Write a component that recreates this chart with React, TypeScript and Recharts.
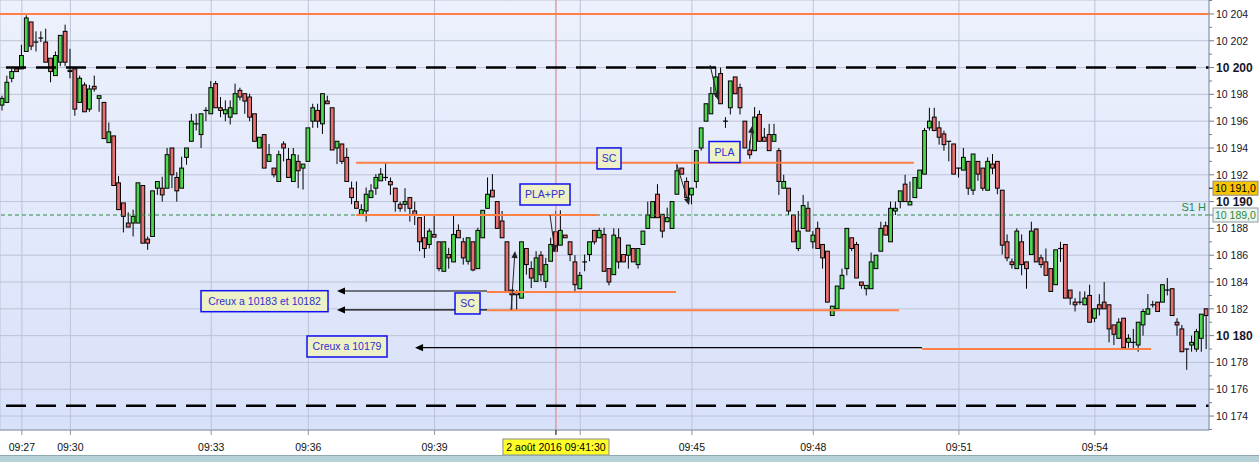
import React from 'react';
import { ComposedChart, Bar, XAxis, YAxis, CartesianGrid, ReferenceLine, ReferenceDot } from 'recharts';

// 249 bars, DAX-like future, 2 Aug 2016
const open = [
  10197.2, 10197.4, 10199.2, 10199.9, 10199.9, 10201.2, 10203.4, 10201.9, 10202.2, 10201.9,
  10200.7, 10199.4, 10200.4, 10202.7, 10199.8, 10199.9, 10197.4, 10198.7, 10196.9, 10198.6,
  10197.7, 10197.4, 10194.4, 10194.9, 10191.4, 10189.9, 10188.4, 10188.4, 10188.4, 10191.2,
  10187.2, 10187.4, 10191.0, 10191.0, 10191.0, 10194.0, 10191.8, 10191.0, 10193.3, 10194.5,
  10195.8, 10195.0, 10196.8, 10196.55, 10198.8, 10197.0, 10196.55, 10196.3, 10196.55, 10198.3,
  10198.05, 10197.8, 10196.55, 10194.0, 10195.0, 10193.0, 10192.5, 10191.5, 10194.3, 10193.15,
  10191.5, 10193.0, 10192.5, 10193.0, 10196.0, 10196.8, 10195.8, 10197.5, 10197.0, 10194.0,
  10194.3, 10193.3, 10191.0, 10190.0, 10189.05, 10189.3, 10190.3, 10191.0, 10191.55, 10191.8,
  10191.5, 10191.0, 10189.8, 10189.8, 10190.3, 10189.3, 10188.8, 10187.3, 10186.8, 10187.55,
  10187.0, 10184.8, 10186.05, 10185.5, 10187.85, 10187.0, 10185.55, 10187.0, 10185.0, 10187.3,
  10189.5, 10190.85, 10190.0, 10188.55, 10187.0, 10183.4, 10183.3, 10182.8, 10186.5, 10185.0,
  10184.05, 10186.0, 10184.05, 10185.55, 10187.75, 10186.75, 10187.5, 10187.0, 10185.5, 10183.5,
  10185.5, 10186.05, 10187.85, 10187.3, 10187.55, 10185.0, 10184.55, 10187.3, 10186.05, 10186.0,
  10186.5, 10185.3, 10186.8, 10188.0, 10188.8, 10190.55, 10189.05, 10188.5, 10188.0, 10190.55,
  10192.5, 10191.5, 10190.5, 10191.5, 10194.0, 10196.0, 10196.55, 10198.05, 10199.55, 10196.0,
  10197.0, 10199.3, 10198.5, 10196.0, 10193.85, 10193.8, 10196.5, 10194.8, 10195.0, 10194.5,
  10193.8, 10191.0, 10191.0, 10189.0, 10186.5, 10188.0, 10189.5, 10187.0, 10188.0, 10186.8,
  10186.3, 10181.5, 10182.0, 10183.5, 10185.0, 10187.3, 10186.8, 10184.0, 10183.5, 10183.5,
  10185.0, 10186.3, 10188.2, 10187.0, 10189.3, 10190.0, 10191.3, 10189.75, 10190.3, 10191.0,
  10192.05, 10195.5, 10196.3, 10195.5, 10195.05, 10194.5, 10194.3, 10192.5, 10192.35, 10193.0,
  10190.85, 10193.0, 10192.5, 10190.85, 10192.8, 10193.0, 10190.85, 10187.0, 10185.5, 10185.0,
  10187.0, 10185.5, 10186.05, 10187.95, 10185.8, 10185.5, 10185.0, 10183.8, 10186.5, 10186.8,
  10183.4, 10182.5, 10182.5, 10182.3, 10183.0, 10181.3, 10182.3, 10182.5, 10182.3, 10180.8,
  10179.8, 10181.3, 10179.5, 10179.5, 10179.3, 10180.8, 10181.6, 10182.3, 10182.5, 10182.5,
  10183.4, 10183.5, 10181.0, 10180.5, 10179.0, 10179.3, 10179.0, 10179.8, 10182.0,
];
const high = [
  10197.9, 10199.4, 10199.9, 10200.0, 10201.7, 10203.9, 10203.4, 10202.7, 10202.7, 10202.9,
  10200.7, 10201.2, 10202.4, 10203.2, 10201.4, 10199.9, 10199.4, 10198.9, 10198.7, 10199.4,
  10197.9, 10197.4, 10195.9, 10194.9, 10191.9, 10189.9, 10189.2, 10189.4, 10191.4, 10191.2,
  10187.4, 10190.8, 10191.5, 10191.85, 10194.0, 10194.0, 10192.2, 10193.35, 10194.0, 10196.55,
  10196.55, 10196.55, 10197.05, 10199.0, 10199.0, 10197.8, 10197.55, 10197.55, 10198.8, 10198.5,
  10198.05, 10198.05, 10196.55, 10194.8, 10195.0, 10194.3, 10192.5, 10193.8, 10194.5, 10194.0,
  10194.0, 10193.5, 10192.8, 10195.5, 10197.3, 10197.3, 10198.05, 10197.9, 10197.0, 10194.5,
  10194.3, 10194.0, 10191.5, 10191.5, 10189.8, 10191.05, 10191.3, 10192.05, 10192.5, 10192.9,
  10191.8, 10191.0, 10190.0, 10191.0, 10190.3, 10190.0, 10188.8, 10189.0, 10188.0, 10189.0,
  10187.0, 10187.0, 10186.55, 10189.05, 10188.3, 10187.3, 10187.3, 10187.0, 10188.05, 10189.35,
  10191.8, 10192.05, 10190.0, 10189.3, 10187.0, 10183.4, 10183.4, 10187.0, 10186.5, 10185.55,
  10186.3, 10186.3, 10185.8, 10187.3, 10189.3, 10189.35, 10187.5, 10187.0, 10186.0, 10184.75,
  10186.05, 10187.0, 10187.85, 10188.05, 10188.05, 10185.0, 10188.0, 10188.0, 10186.05, 10186.75,
  10186.5, 10186.5, 10187.8, 10190.0, 10190.0, 10191.3, 10189.05, 10189.55, 10190.0, 10192.8,
  10192.5, 10191.8, 10191.0, 10193.8, 10195.5, 10197.3, 10198.55, 10200.0, 10200.0, 10196.3,
  10199.0, 10199.3, 10198.8, 10196.0, 10194.55, 10197.05, 10196.8, 10195.5, 10195.8, 10195.8,
  10194.0, 10192.0, 10191.0, 10189.0, 10189.3, 10190.5, 10190.0, 10187.8, 10188.5, 10186.8,
  10186.3, 10182.2, 10183.7, 10185.0, 10188.0, 10187.3, 10187.0, 10184.0, 10183.75, 10186.2,
  10186.0, 10188.5, 10188.5, 10190.0, 10190.0, 10190.8, 10192.0, 10191.5, 10191.8, 10192.35,
  10195.5, 10197.0, 10197.0, 10196.0, 10195.3, 10194.5, 10194.3, 10192.5, 10194.0, 10193.0,
  10193.55, 10193.0, 10192.5, 10193.3, 10193.55, 10193.0, 10190.85, 10187.55, 10185.75, 10188.0,
  10187.55, 10185.5, 10188.5, 10188.0, 10186.05, 10186.5, 10185.0, 10186.4, 10187.0, 10186.8,
  10183.4, 10182.8, 10183.3, 10183.3, 10183.8, 10182.0, 10183.1, 10184.0, 10182.3, 10180.8,
  10181.3, 10181.3, 10180.1, 10180.5, 10181.0, 10182.0, 10183.1, 10182.6, 10182.5, 10183.8,
  10184.3, 10183.5, 10181.3, 10180.8, 10179.0, 10180.0, 10180.5, 10181.6, 10182.0,
];
const low = [
  10196.8, 10197.4, 10198.9, 10199.7, 10199.9, 10201.2, 10201.3, 10201.2, 10201.9, 10200.4,
  10198.9, 10199.4, 10200.1, 10200.1, 10199.2, 10196.4, 10197.4, 10196.7, 10196.7, 10198.2,
  10196.7, 10194.7, 10194.4, 10191.2, 10189.4, 10187.7, 10188.1, 10187.4, 10188.4, 10186.9,
  10186.4, 10187.4, 10190.5, 10190.0, 10191.0, 10191.0, 10190.0, 10191.0, 10192.75, 10194.5,
  10195.3, 10194.0, 10196.0, 10196.55, 10197.0, 10196.3, 10196.0, 10195.75, 10196.55, 10197.55,
  10196.55, 10196.0, 10194.5, 10194.0, 10192.5, 10193.0, 10191.8, 10191.5, 10193.0, 10191.8,
  10191.5, 10191.0, 10190.9, 10193.0, 10195.5, 10195.5, 10195.05, 10197.3, 10193.85, 10192.8,
  10192.8, 10191.5, 10189.8, 10189.5, 10189.05, 10188.5, 10190.3, 10190.5, 10191.55, 10191.55,
  10190.5, 10189.25, 10189.25, 10189.25, 10188.5, 10188.25, 10186.3, 10185.8, 10186.5, 10187.35,
  10184.8, 10184.8, 10185.0, 10185.5, 10187.3, 10185.3, 10185.3, 10184.8, 10185.0, 10187.3,
  10189.5, 10190.35, 10188.0, 10187.3, 10183.3, 10181.9, 10181.9, 10182.8, 10184.55, 10183.55,
  10184.05, 10184.05, 10183.55, 10185.55, 10186.3, 10186.75, 10187.3, 10185.55, 10183.3, 10183.5,
  10184.8, 10185.55, 10186.8, 10187.3, 10184.8, 10183.75, 10184.55, 10185.0, 10185.5, 10185.0,
  10185.5, 10185.0, 10186.8, 10188.0, 10188.8, 10188.8, 10187.3, 10188.5, 10188.0, 10190.55,
  10192.05, 10190.3, 10189.8, 10191.0, 10193.8, 10196.0, 10196.55, 10197.8, 10197.3, 10195.5,
  10196.5, 10198.05, 10196.5, 10194.0, 10193.2, 10193.8, 10194.5, 10194.5, 10193.8, 10194.5,
  10190.5, 10191.0, 10189.0, 10187.0, 10186.3, 10188.0, 10187.8, 10186.5, 10186.5, 10185.0,
  10182.5, 10181.5, 10182.0, 10183.5, 10184.5, 10186.3, 10184.3, 10183.5, 10183.0, 10183.5,
  10185.0, 10186.3, 10187.5, 10187.0, 10189.0, 10189.5, 10190.0, 10189.75, 10190.3, 10191.0,
  10192.05, 10195.3, 10195.3, 10194.25, 10193.8, 10193.0, 10192.05, 10191.8, 10192.35, 10190.5,
  10190.5, 10191.55, 10190.8, 10190.85, 10192.05, 10190.55, 10186.05, 10185.55, 10185.0, 10185.0,
  10184.5, 10183.5, 10186.05, 10185.5, 10185.05, 10184.5, 10183.3, 10183.8, 10185.5, 10182.8,
  10182.3, 10181.8, 10182.3, 10182.3, 10181.0, 10181.0, 10181.5, 10182.0, 10179.5, 10179.3,
  10179.8, 10179.1, 10179.1, 10179.0, 10178.8, 10180.0, 10181.6, 10182.1, 10181.8, 10182.5,
  10183.0, 10181.5, 10180.0, 10178.8, 10177.45, 10178.8, 10178.8, 10178.8, 10179.0,
];
const close = [
  10197.7, 10198.9, 10199.7, 10199.7, 10200.9, 10203.7, 10201.6, 10201.9, 10202.2, 10200.4,
  10199.7, 10200.9, 10202.4, 10200.4, 10199.7, 10196.9, 10199.2, 10196.7, 10198.4, 10198.4,
  10197.9, 10194.7, 10195.2, 10191.2, 10189.4, 10188.9, 10188.1, 10188.9, 10191.4, 10186.9,
  10186.9, 10190.8, 10191.5, 10190.5, 10193.5, 10192.0, 10190.8, 10192.5, 10194.0, 10196.0,
  10195.8, 10196.55, 10196.8, 10198.5, 10197.0, 10196.8, 10196.85, 10197.0, 10198.05, 10197.8,
  10197.5, 10196.3, 10194.5, 10194.8, 10192.5, 10193.5, 10192.0, 10193.5, 10194.0, 10191.8,
  10193.5, 10192.3, 10192.8, 10195.5, 10197.0, 10196.0, 10198.05, 10197.3, 10193.85, 10194.5,
  10193.0, 10191.5, 10190.3, 10189.5, 10189.4, 10190.55, 10190.8, 10191.8, 10192.05, 10191.8,
  10191.25, 10190.0, 10189.5, 10190.0, 10189.5, 10189.0, 10187.0, 10186.5, 10187.8, 10187.35,
  10185.0, 10187.0, 10185.8, 10187.55, 10187.3, 10185.8, 10187.3, 10184.9, 10187.85, 10189.35,
  10190.55, 10190.35, 10188.0, 10187.3, 10183.3, 10183.05, 10183.05, 10187.0, 10185.3, 10184.3,
  10185.8, 10184.55, 10185.3, 10186.8, 10186.3, 10187.85, 10187.3, 10186.05, 10183.8, 10184.5,
  10185.5, 10187.0, 10187.0, 10187.85, 10184.8, 10184.0, 10187.5, 10185.5, 10185.5, 10186.75,
  10185.5, 10186.5, 10187.8, 10189.0, 10190.0, 10188.8, 10187.8, 10188.8, 10190.0, 10192.3,
  10192.05, 10190.3, 10191.0, 10193.8, 10195.5, 10197.3, 10198.05, 10199.3, 10197.3, 10196.0,
  10199.0, 10198.05, 10197.0, 10194.0, 10193.5, 10196.3, 10194.5, 10194.5, 10193.8, 10195.0,
  10191.5, 10191.5, 10189.3, 10187.0, 10187.8, 10189.7, 10187.8, 10187.5, 10186.5, 10185.8,
  10182.5, 10182.2, 10183.7, 10184.5, 10188.0, 10186.5, 10184.3, 10183.75, 10183.75, 10185.5,
  10186.0, 10188.0, 10187.5, 10189.5, 10189.5, 10190.8, 10190.0, 10190.0, 10191.8, 10192.35,
  10195.3, 10196.0, 10195.3, 10194.8, 10194.25, 10194.5, 10192.05, 10192.5, 10193.3, 10191.0,
  10193.55, 10192.05, 10191.0, 10193.0, 10192.5, 10191.0, 10186.75, 10185.8, 10185.3, 10187.8,
  10185.3, 10185.0, 10187.8, 10185.5, 10185.3, 10184.5, 10183.3, 10186.4, 10186.5, 10182.8,
  10182.8, 10182.3, 10182.5, 10182.8, 10181.0, 10182.0, 10182.0, 10182.0, 10180.5, 10180.1,
  10181.0, 10179.1, 10179.8, 10179.5, 10181.0, 10181.8, 10182.0, 10182.3, 10181.8, 10183.8,
  10183.4, 10181.5, 10180.8, 10178.8, 10179.0, 10179.5, 10180.3, 10181.6, 10181.5,
];

// time axis: bar index -> label
const timeTicks = [4, 14, 43, 63, 89, 114, 119, 142, 167, 197, 225];
const timeLabels = ['09:27', '09:30', '09:33', '09:36', '09:39', '09:41:30', '09:42', '09:45', '09:48', '09:51', '09:54'];
const cursorIdx = 114;
const cursorLabel = '2 août 2016 09:41:30';

// levels
const topLevel = 10204;
const dashedLevels = [10200, 10174.77];
const s1Level = 10189;
const lastPrice = 10191;

// drawn annotations (bar index / price)
const orangeSegs = [
  { from: 72.83, to: 187.75, y: 10192.9 },
  { from: 72.83, to: 122.67, y: 10189.0 },
  { from: 99.81, to: 138.74, y: 10183.25 },
  { from: 99.81, to: 184.67, y: 10181.9 },
  { from: 189.4, to: 236.57, y: 10179.0 },
];
const leftArrows = [
  { from: 99.81, to: 68.91, y: 10183.33 },
  { from: 99.81, to: 68.91, y: 10181.92 },
  { from: 189.4, to: 84.98, y: 10179.1 },
];
const pointers = [
  { x1: 104.75, y1: 10181.91, x2: 105.57, y2: 10186.31 },
  { x1: 112.78, y1: 10189.0, x2: 113.81, y2: 10186.24 },
  { x1: 138.94, y1: 10192.72, x2: 141.41, y2: 10189.75 },
  { x1: 145.74, y1: 10200.19, x2: 147.39, y2: 10197.58 },
  { x1: 153.8, y1: 10193.8, x2: 154.39, y2: 10195.64 },
];
const notes = [
  { text: 'Creux a 10183 et 10182', x: 53.98, y: 10182.57, w: 127 },
  { text: 'Creux a 10179', x: 70.97, y: 10179.19, w: 80 },
  { text: 'SC', x: 95.79, y: 10182.4, w: 25 },
  { text: 'SC', x: 124.93, y: 10193.22, w: 24 },
  { text: 'PLA+PP', x: 111.75, y: 10190.53, w: 50 },
  { text: 'PLA', x: 148.72, y: 10193.7, w: 31 },
];

const FONT = '"Liberation Sans", Arial, sans-serif';
const Y_MIN = 10172.96;
const Y_MAX = 10205.04;
const priceTicks = Array.from({ length: 33 }, (_, k) => 10173 + k);
const gridTicks = Array.from({ length: 16 }, (_, k) => 10174 + 2 * k);

const rows = open.map((o, k) => ({
  i: k,
  o,
  h: high[k],
  l: low[k],
  c: close[k],
  range: [low[k], high[k]],
}));

const fmtPrice = (v: number) => `${Math.floor(v / 1000)} ${String(Math.round(v % 1000)).padStart(3, '0')}`;

const Candle = (props: any) => {
  const { x, y, width, height, payload } = props;
  if (x == null || !payload) return null;
  const { o, h, l, c } = payload;
  const cx = x + width / 2;
  const k = h > l ? height / (h - l) : 0;
  const yO = y + (h - o) * k;
  const yC = y + (h - c) * k;
  return (
    <g>
      <line x1={cx} x2={cx} y1={y} y2={y + height} stroke="#000" strokeWidth={1} />
      {c === o ? (
        <line x1={cx - 2.4} x2={cx + 2.4} y1={yO} y2={yO} stroke="#000" strokeWidth={1.2} />
      ) : (
        <rect
          x={cx - 1.9}
          y={Math.min(yO, yC)}
          width={3.8}
          height={Math.abs(yO - yC)}
          fill={c > o ? '#4fd54f' : '#e6706f'}
          stroke="#000"
          strokeWidth={1}
        />
      )}
    </g>
  );
};

const arrowShape = (head: number, color: string, w: number) => (p: any) => {
  const { x1, y1, x2, y2 } = p;
  if (x1 == null) return null;
  const a = Math.atan2(y2 - y1, x2 - x1);
  const hx = x2 - head * Math.cos(a);
  const hy = y2 - head * Math.sin(a);
  const nx = -Math.sin(a) * head * 0.45;
  const ny = Math.cos(a) * head * 0.45;
  return (
    <g>
      <line x1={x1} y1={y1} x2={hx} y2={hy} stroke={color} strokeWidth={w} />
      <polygon points={`${x2},${y2} ${hx + nx},${hy + ny} ${hx - nx},${hy - ny}`} fill={color} />
    </g>
  );
};

const noteShape = (text: string, w: number) => (p: any) => {
  const { cx, cy } = p;
  if (cx == null) return null;
  return (
    <g>
      <rect x={cx - w / 2} y={cy - 10.5} width={w} height={21} fill="#eef0c6" stroke="#1010f0" strokeWidth={1.5} />
      <text x={cx} y={cy + 4} textAnchor="middle" fontSize={10.5} fill="#2f2fd2" fontFamily={FONT}>
        {text}
      </text>
    </g>
  );
};

const TimeTick = (props: any) => {
  const { x, y, payload } = props;
  const v = payload.value;
  if (v === cursorIdx) {
    return (
      <g>
        <line x1={x} x2={x} y1={y} y2={y + 5} stroke="#000" />
        <rect x={x - 53} y={y + 9} width={106} height={16} fill="#ffff2a" stroke="#8a8a8a" />
        <text x={x} y={y + 21} textAnchor="middle" fontSize={10.5} fill="#000" fontFamily={FONT}>
          {cursorLabel}
        </text>
      </g>
    );
  }
  const hidden = Math.abs(v - cursorIdx) < 12;
  return (
    <g>
      <line x1={x} x2={x} y1={y} y2={y + 5} stroke="#8b96a8" />
      {!hidden && (
        <text x={x} y={y + 21} textAnchor="middle" fontSize={10.5} fill="#111" fontFamily={FONT}>
          {timeLabels[timeTicks.indexOf(v)]}
        </text>
      )}
    </g>
  );
};

const PriceTick = (props: any) => {
  const { x, y, payload } = props;
  const v = payload.value;
  if (v === lastPrice) {
    return (
      <g>
        <line x1={x} x2={x + 5} y1={y} y2={y} stroke="#000" />
        <rect x={x + 4} y={y - 7} width={45} height={14} fill="#f7c600" stroke="#8a8a8a" />
        <text x={x + 6} y={y + 4} fontSize={10.5} fill="#000" fontFamily={FONT}>{`${fmtPrice(v)},0`}</text>
      </g>
    );
  }
  if (v === s1Level) {
    return (
      <g>
        <line x1={x} x2={x + 5} y1={y} y2={y} stroke="#6f7d93" />
        <rect x={x + 4} y={y - 7} width={45} height={14} fill="#eef4f2" stroke="#8a9a9a" />
        <text x={x + 6} y={y + 4} fontSize={10.5} fill="#2a8a3a" fontFamily={FONT}>{`${fmtPrice(v)},0`}</text>
      </g>
    );
  }
  const major = v % 2 === 0;
  const bold = v % 10 === 0;
  return (
    <g>
      <line x1={x} x2={x + (major ? 5 : 3)} y1={y} y2={y} stroke="#6f7d93" />
      {major && (
        <text
          x={x + 7}
          y={y + 4}
          fontSize={bold ? 12 : 10.5}
          fontWeight={bold ? 'bold' : 'normal'}
          fill="#15152e"
          fontFamily={FONT}
        >
          {fmtPrice(v)}
        </text>
      )}
    </g>
  );
};

const S1Label = (p: any) => {
  const vb = p.viewBox;
  if (!vb) return null;
  return (
    <text x={vb.x + vb.width - 3} y={vb.y - 4} textAnchor="end" fontSize={11} fill="#2a8a3a" fontFamily={FONT}>
      S1 H
    </text>
  );
};

export default function App() {
  return (
    <div
      style={{
        position: 'absolute',
        left: 0,
        top: 0,
        width: 1259,
        height: 462,
        background: '#fff',
        overflow: 'hidden',
        fontFamily: FONT,
      }}
    >
      <ComposedChart width={1259} height={455} data={rows} margin={{ top: 0, right: 0, bottom: 0, left: 0 }}>
        <defs>
          <linearGradient id="plotBg" x1="0" y1="0" x2="0" y2="1">
            <stop offset="0%" stopColor="#edf1fd" />
            <stop offset="100%" stopColor="#d8e1fa" />
          </linearGradient>
        </defs>
        <CartesianGrid yAxisId="grid" fill="url(#plotBg)" fillOpacity={1} stroke="#bcc3d6" />
        <XAxis
          dataKey="i"
          type="number"
          domain={[-0.5, 248.5]}
          ticks={timeTicks}
          interval={0}
          height={25}
          tickLine={false}
          tickSize={0}
          tickMargin={0}
          tick={<TimeTick />}
          axisLine={{ stroke: '#8d99ad' }}
          allowDataOverflow
        />
        <YAxis
          yAxisId="grid"
          orientation="left"
          hide
          width={0}
          domain={[Y_MIN, Y_MAX]}
          ticks={gridTicks}
          allowDataOverflow
        />
        <YAxis
          yAxisId="p"
          orientation="right"
          width={50}
          domain={[Y_MIN, Y_MAX]}
          ticks={priceTicks}
          interval={0}
          tickLine={false}
          tickSize={0}
          tickMargin={0}
          tick={<PriceTick />}
          axisLine={{ stroke: '#8d99ad' }}
          allowDataOverflow
        />
        <ReferenceLine yAxisId="p" x={cursorIdx} stroke="#ee8a8a" strokeWidth={1} />
        <Bar yAxisId="p" dataKey="range" barSize={4} shape={<Candle />} isAnimationActive={false} />
        <ReferenceLine yAxisId="p" y={s1Level} stroke="#2a8a3a" strokeDasharray="4 3" label={<S1Label />} />
        <ReferenceLine yAxisId="p" y={topLevel} stroke="#ff7f45" strokeWidth={2} />
        {dashedLevels.map((lv) => (
          <ReferenceLine
            key={lv}
            yAxisId="p"
            y={lv}
            stroke="#000"
            strokeWidth={2.5}
            strokeDasharray="20 10"
            strokeDashoffset={17}
          />
        ))}
        {leftArrows.map((s, k) => (
          <ReferenceLine
            key={`a${k}`}
            yAxisId="p"
            segment={[{ x: s.from, y: s.y }, { x: s.to, y: s.y }]}
            shape={arrowShape(8, '#000', 1.2)}
          />
        ))}
        {orangeSegs.map((s, k) => (
          <ReferenceLine
            key={`o${k}`}
            yAxisId="p"
            segment={[{ x: s.from, y: s.y }, { x: s.to, y: s.y }]}
            stroke="#ff7f45"
            strokeWidth={2}
          />
        ))}
        {pointers.map((s, k) => (
          <ReferenceLine
            key={`p${k}`}
            yAxisId="p"
            segment={[{ x: s.x1, y: s.y1 }, { x: s.x2, y: s.y2 }]}
            shape={arrowShape(7, '#222', 1)}
          />
        ))}
        {notes.map((n, k) => (
          <ReferenceDot key={`n${k}`} yAxisId="p" x={n.x} y={n.y} r={1} shape={noteShape(n.text, n.w)} />
        ))}
      </ComposedChart>
      <div
        style={{
          position: 'absolute',
          left: 0,
          top: 455,
          width: 1259,
          height: 7,
          background: '#b7d1d8',
          borderTop: '1px solid #8fa9b1',
        }}
      />
    </div>
  );
}
